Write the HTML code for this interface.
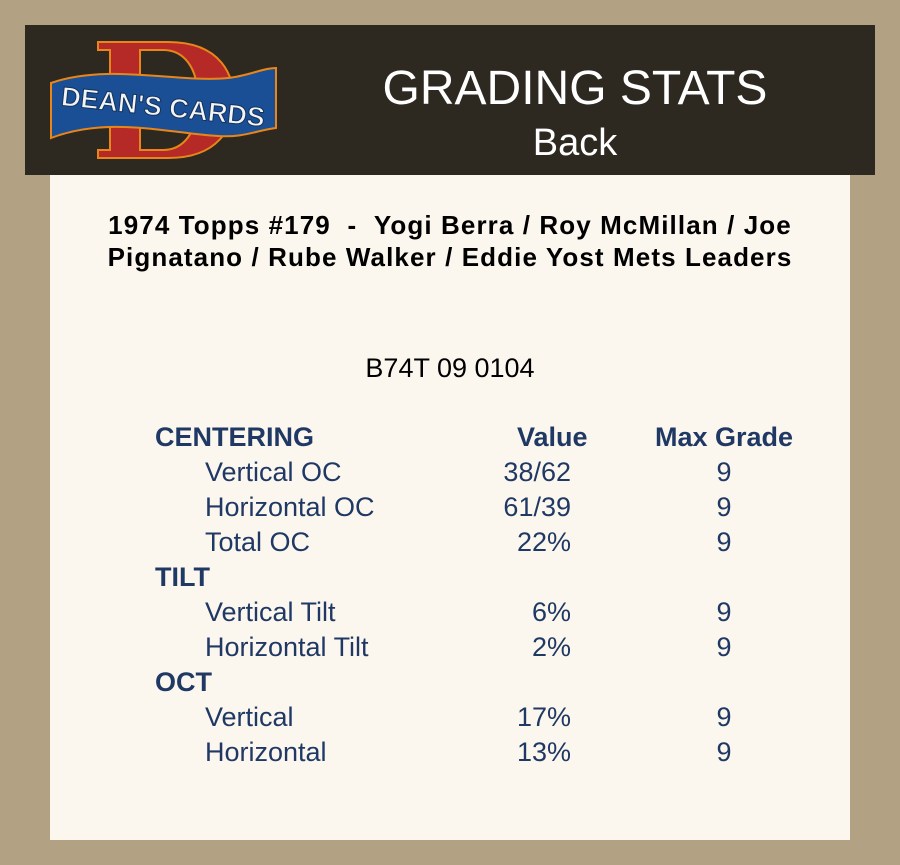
<!DOCTYPE html>
<html><head><meta charset="utf-8"><style>
body{margin:0;width:900px;height:865px;background:#b3a183;position:relative;overflow:hidden;font-family:"Liberation Sans",Arial,sans-serif}
.hdr{position:absolute;left:25px;top:25px;width:850px;height:150px;background:#2e2920}
.box{position:absolute;left:50px;top:175px;width:800px;height:665px;background:#fcf7ee}
.t{position:absolute;white-space:nowrap;line-height:1}
.n{color:#1f3864;font-size:27px}
.b{font-weight:bold}
.r{text-align:right;width:100px}
.c{text-align:center;width:60px}
</style></head><body>
<div class="hdr"></div>
<svg style="position:absolute;left:48px;top:38px" width="232" height="126" viewBox="0 0 232 126">
<path d="M50 4 H120 C175 4 186 40 186 62 C186 90 170 120 120 120 H50 V112 H62 V12 H50 Z M92 12 V112 H115 C135 112 150 95 150 62 C150 28 135 12 115 12 Z" fill="#b52a26" stroke="#e8861a" stroke-width="2" fill-rule="evenodd"/>
<path d="M3 45 C60 25 130 45 180 40 C200 38 215 30 228 30 V90 C210 92 195 100 170 98 C120 95 60 78 3 100 Z" fill="#1a4f95" stroke="#e8861a" stroke-width="2"/>
<text x="115" y="78" text-anchor="middle" font-family="Liberation Sans" font-weight="bold" font-size="27" fill="#f4f4f4" stroke="#12325f" stroke-width="1" transform="rotate(6 115 70)">DEAN'S CARDS</text>
</svg>
<div class="t" style="left:360px;width:430px;text-align:center;top:65px;color:#fff;font-size:48px">GRADING STATS</div>
<div class="t" style="left:360px;width:430px;text-align:center;top:124px;color:#fff;font-size:38px">Back</div>
<div class="box"></div>
<div class="t b" style="left:40px;width:820px;text-align:center;top:209px;font-size:26px;letter-spacing:1.1px;line-height:32px;white-space:normal">1974 Topps #179 &nbsp;- &nbsp;Yogi Berra / Roy McMillan / Joe<br>Pignatano / Rube Walker / Eddie Yost Mets Leaders</div>
<div class="t" style="left:50px;width:800px;text-align:center;top:355px;font-size:27px">B74T 09 0104</div>

<div class="t n b" style="left:155px;top:424px">CENTERING</div>
<div class="t n b" style="left:517px;top:424px">Value</div>
<div class="t n b" style="left:655px;top:424px">Max Grade</div>

<div class="t n" style="left:205px;top:459px">Vertical OC</div>
<div class="t n r" style="left:471px;top:459px">38/62</div>
<div class="t n c" style="left:694px;top:459px">9</div>
<div class="t n" style="left:205px;top:494px">Horizontal OC</div>
<div class="t n r" style="left:471px;top:494px">61/39</div>
<div class="t n c" style="left:694px;top:494px">9</div>
<div class="t n" style="left:205px;top:529px">Total OC</div>
<div class="t n r" style="left:471px;top:529px">22%</div>
<div class="t n c" style="left:694px;top:529px">9</div>

<div class="t n b" style="left:155px;top:564px">TILT</div>
<div class="t n" style="left:205px;top:599px">Vertical Tilt</div>
<div class="t n r" style="left:471px;top:599px">6%</div>
<div class="t n c" style="left:694px;top:599px">9</div>
<div class="t n" style="left:205px;top:634px">Horizontal Tilt</div>
<div class="t n r" style="left:471px;top:634px">2%</div>
<div class="t n c" style="left:694px;top:634px">9</div>

<div class="t n b" style="left:155px;top:669px">OCT</div>
<div class="t n" style="left:205px;top:704px">Vertical</div>
<div class="t n r" style="left:471px;top:704px">17%</div>
<div class="t n c" style="left:694px;top:704px">9</div>
<div class="t n" style="left:205px;top:739px">Horizontal</div>
<div class="t n r" style="left:471px;top:739px">13%</div>
<div class="t n c" style="left:694px;top:739px">9</div>
</body></html>
